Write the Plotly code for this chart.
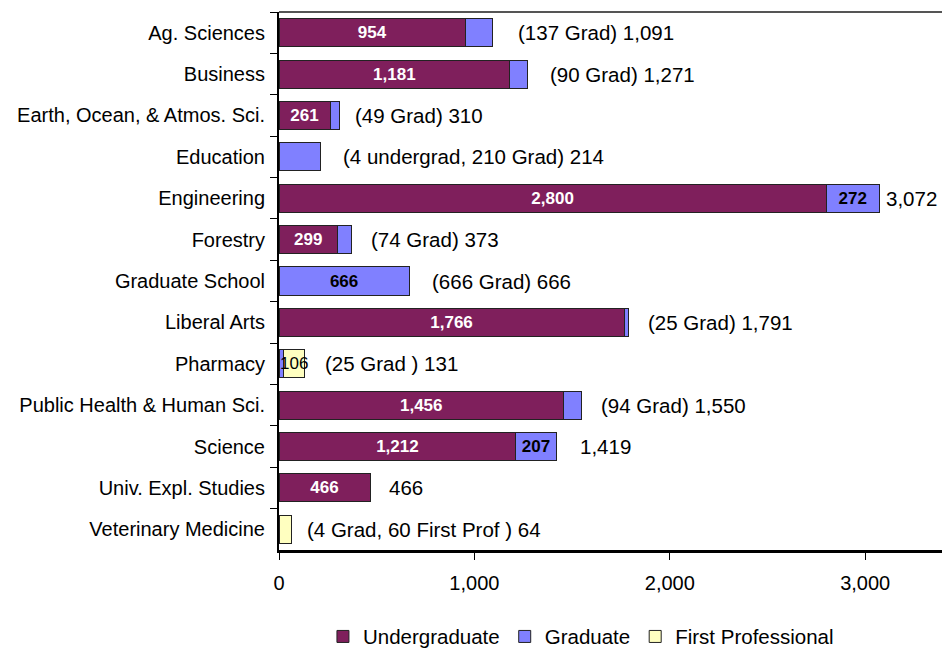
import plotly.graph_objects as go

colleges = ["Ag. Sciences", "Business", "Earth, Ocean, & Atmos. Sci.", "Education",
            "Engineering", "Forestry", "Graduate School", "Liberal Arts", "Pharmacy",
            "Public Health & Human Sci.", "Science", "Univ. Expl. Studies",
            "Veterinary Medicine"]
undergrad = [954, 1181, 261, 4, 2800, 299, 0, 1766, 0, 1456, 1212, 466, 0]
graduate = [137, 90, 49, 210, 272, 74, 666, 25, 25, 94, 207, 0, 4]
first_prof = [0, 0, 0, 0, 0, 0, 0, 0, 106, 0, 0, 0, 60]
undergrad_labels = ["954", "1,181", "261", "", "2,800", "299", "", "1,766", "", "1,456", "1,212", "466", ""]
grad_labels = ["", "", "", "", "272", "", "666", "", "", "", "207", "", ""]
fp_labels = ["", "", "", "", "", "", "", "", "106", "", "", "", ""]
notes = ["(137 Grad) 1,091", "(90 Grad) 1,271", "(49 Grad) 310",
         "(4 undergrad, 210 Grad) 214", "3,072", "(74 Grad) 373", "(666 Grad) 666",
         "(25 Grad) 1,791", "(25 Grad ) 131", "(94 Grad) 1,550", "1,419", "466",
         "(4 Grad, 60 First Prof ) 64"]
note_shift = [24, 21, 13, 20, 5, 17, 21, 17, 18, 17, 22, 17, 13]

totals = [u + g + f for u, g, f in zip(undergrad, graduate, first_prof)]
FONT = "Liberation Sans, Arial, sans-serif"
edge = dict(color="#222222", width=1)

fig = go.Figure()
fig.add_trace(go.Bar(
    y=colleges, x=undergrad, orientation="h", name="Undergraduate",
    marker=dict(color="#7F1F5C", line=edge),
    text=undergrad_labels, textposition="inside", insidetextanchor="middle",
    constraintext="none", textangle=0,
    textfont=dict(family=FONT, size=17, color="white", weight="bold"),
))
fig.add_trace(go.Bar(
    y=colleges, x=graduate, orientation="h", name="Graduate",
    marker=dict(color="#8080FF", line=edge),
    text=grad_labels, textposition="inside", insidetextanchor="middle",
    constraintext="none", textangle=0,
    textfont=dict(family=FONT, size=17, color="black", weight="bold"),
))
fig.add_trace(go.Bar(
    y=colleges, x=first_prof, orientation="h", name="First Professional",
    marker=dict(color="#FFFFC0", line=edge),
    text=fp_labels, textposition="inside", insidetextanchor="middle",
    constraintext="none", textangle=0,
    textfont=dict(family=FONT, size=17, color="black"),
))

for c, t, n, s in zip(colleges, totals, notes, note_shift):
    fig.add_annotation(x=t, y=c, text=n, showarrow=False, xanchor="left",
                       xshift=s, font=dict(family=FONT, size=20.5, color="black"))

fig.add_shape(type="line", xref="paper", yref="paper", x0=0, x1=1, y0=1, y1=1,
              line=dict(color="#555555", width=2))

# the page body adds an 8px margin, so the figure is 8px smaller than the window
fig.update_layout(
    width=942, height=642,
    margin=dict(l=271, r=0, t=4, b=100, autoexpand=False),
    barmode="stack", bargap=0.32,
    plot_bgcolor="white", paper_bgcolor="white",
    font=dict(family=FONT, size=20, color="black"),
    showlegend=True,
    legend=dict(orientation="h", x=0.45, xanchor="center", y=-0.161, yanchor="middle",
                font=dict(size=20.5), itemwidth=30, traceorder="normal"),
    xaxis=dict(range=[0, 3434], tickvals=[0, 1000, 2000, 3000], tickformat=",d",
               showgrid=False, zeroline=False, showline=True, linecolor="black",
               linewidth=3, ticks="outside", ticklen=7, tickcolor="black",
               ticklabelstandoff=6, tickfont=dict(size=20), automargin=False),
    yaxis=dict(autorange="reversed", showgrid=False, showline=True, linecolor="black",
               linewidth=2, ticks="outside", ticklen=7, tickcolor="black",
               tickson="boundaries", ticklabelstandoff=8, tickfont=dict(size=20),
               automargin=False),
)

fig.write_html("out.html")
